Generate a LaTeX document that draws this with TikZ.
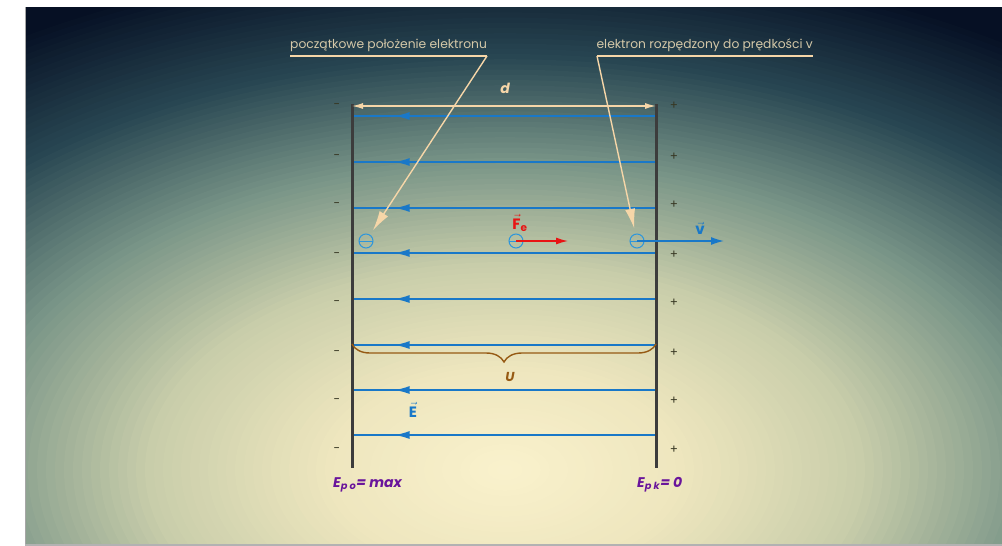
\documentclass[tikz,border=0pt]{standalone}
\usepackage{amsmath}
\usepackage{fontspec}
\setmainfont{Poppins}
\usepackage{tikz}
\usetikzlibrary{arrows.meta, positioning, calc,
                decorations.pathreplacing, decorations.markings}
\definecolor{fieldblue}{RGB}{25, 120, 200}
\definecolor{electronblue}{RGB}{45, 150, 220}
\definecolor{plategray}{RGB}{60, 60, 60}
\definecolor{calloutcream}{RGB}{246, 214, 168}
\definecolor{labelbeige}{RGB}{212, 200, 168}
\definecolor{forcered}{RGB}{232, 20, 20}
\definecolor{bracebrown}{RGB}{150, 90, 20}
\definecolor{energypurple}{RGB}{105, 20, 155}
\definecolor{signdark}{RGB}{55, 55, 35}
\definecolor{glow0}{RGB}{250, 242, 205}
\definecolor{glow1}{RGB}{238, 230, 190}
\definecolor{glow2}{RGB}{200, 205, 170}
\definecolor{glow3}{RGB}{120, 148, 135}
\definecolor{glow4}{RGB}{40, 70, 82}
\definecolor{glow5}{RGB}{6, 16, 36}

\tikzset{
    plate/.style={plategray, line width=3pt},
    sign/.style={signdark, font=\fontsize{12}{12}\selectfont, inner sep=0pt},
    fieldline/.style={fieldblue, line width=1.6pt, postaction={decorate},
        decoration={markings,
            mark=at position 0.86 with {\arrow{Latex[length=15pt, width=8pt]}}}},
    dimline/.style={calloutcream, line width=1.3pt,
        {Latex[length=11pt, width=6pt]}-{Latex[length=11pt, width=6pt]}},
    callout/.style={labelbeige, font=\fontsize{12.3}{14}\selectfont, inner sep=0pt},
    underline/.style={calloutcream, line width=1.4pt},
    pointer/.style={calloutcream, line width=1.4pt,
        -{Latex[length=20pt, width=10pt]}},
    electron/.style={circle, draw=electronblue, line width=1pt,
        minimum size=14pt, inner sep=0pt,
        path picture={\draw[electronblue, line width=1pt]
            (path picture bounding box.west) -- (path picture bounding box.east);}},
    forcearrow/.style={forcered, line width=1.3pt,
        -{Latex[length=12pt, width=7pt]}},
    velarrow/.style={fieldblue, line width=1.3pt,
        -{Latex[length=13pt, width=8pt]}},
    vectorlabel/.style={font=\bfseries\fontsize{15}{15}\selectfont, inner sep=0pt},
    brace/.style={bracebrown, line width=1.4pt,
        decorate, decoration={brace, mirror, amplitude=18pt}},
    energy/.style={energypurple, font=\bfseries\itshape\fontsize{14}{14}\selectfont,
        inner sep=0pt}
}

\begin{document}
\begin{tikzpicture}[x=1pt, y=-1pt]

    % BACKGROUND PANEL
    \useasboundingbox (0,0) rectangle (1002,546);
    \fill[white] (0,0) rectangle (1002,546);
    \begin{scope}
        \clip (25,7) rectangle (1002,544);
        \fill[glow5] (25,7) rectangle (1002,544);
        \foreach \k in {100,99,...,1} {
            \pgfmathtruncatemacro\seg{min(4,floor(\k/20))}
            \pgfmathtruncatemacro\nxt{\seg+1}
            \pgfmathtruncatemacro\mixp{(\k-20*\seg)*5}
            \fill[glow\nxt!\mixp!glow\seg] (505,470)
                ellipse [x radius={9pt*\k}, y radius={5.2pt*\k}];
        }
    \end{scope}
    \draw[gray!70, line width=1pt] (25.5,7) -- (25.5,544);
    \draw[gray!60, line width=2pt] (25,545) -- (1002,545);

    % FIELD LINES
    \foreach \y [count=\i] in {116,162,208,253,299,345,390,435} {
        \coordinate (fr\i) at (656,\y);
        \coordinate (fl\i) at (352,\y);
        \draw[fieldline] (fr\i) -- (fl\i);
    }

    % PLATES
    \coordinate (ltop) at (352,104);
    \coordinate (lbot) at (352,468);
    \coordinate (rtop) at (656,104);
    \coordinate (rbot) at (656,468);
    \draw[plate] (ltop) -- (lbot);
    \draw[plate] (rtop) -- (rbot);
    \foreach \y [count=\i] in {106,157,205,255,303,353,401,450} {
        \node[sign] (minus\i) at (337,\y) {-};
        \node[sign] (plus\i) at (674,\y) {+};
    }

    % DISTANCE d
    \coordinate (dl) at (352,106);
    \coordinate (dr) at (656,106);
    \draw[dimline] (dl) -- (dr);
    \node[calloutcream, font=\bfseries\itshape\fontsize{14}{14}\selectfont]
        (dlab) at (505,88) {d};

    % ELECTRONS
    \node[electron] (e1) at (366,241) {};
    \node[electron] (e2) at (516,241) {};
    \node[electron] (e3) at (637,241) {};
    \coordinate (fetip) at (568,241);
    \coordinate (vtip) at (724,241);
    \draw[forcearrow] (e2.center) -- (fetip);
    \draw[velarrow] (e3.center) -- (vtip);
    \node[vectorlabel, forcered] (felab) at (520,223)
        {$\vec{\text{F}}_{\text{e}}$};
    \node[vectorlabel, fieldblue] (vlab) at (700,228) {$\vec{\text{v}}$};
    \node[vectorlabel, fieldblue] (elab) at (413,410) {$\vec{\text{E}}$};

    % CALLOUTS
    \node[callout, anchor=base west] (startlab) at (290,48)
        {początkowe położenie elektronu};
    \coordinate (ul1a) at (290,56);
    \coordinate (ul1b) at (487,56);
    \draw[underline] (ul1a) -- (ul1b);
    \draw[pointer, shorten >=5pt] (ul1b) -- (e1);
    \node[callout, anchor=base east] (endlab) at (813,48)
        {elektron rozpędzony do prędkości v};
    \coordinate (ul2a) at (597,56);
    \coordinate (ul2b) at (813,56);
    \draw[underline] (ul2a) -- (ul2b);
    \draw[pointer, shorten >=5pt] (ul2a) -- (e3);

    % VOLTAGE U
    \coordinate (ubl) at (352,344);
    \coordinate (ubr) at (656,344);
    \draw[brace] (ubl) -- (ubr);
    \node[bracebrown, font=\bfseries\itshape\fontsize{13}{13}\selectfont]
        (ulab) at (510,377) {U};

    % POTENTIAL ENERGY
    \node[energy, anchor=base west] (epo) at (333,487)
        {E\textsubscript{p o}= max};
    \node[energy, anchor=base west] (epk) at (637,487)
        {E\textsubscript{p k}= 0};

\end{tikzpicture}
\end{document}
